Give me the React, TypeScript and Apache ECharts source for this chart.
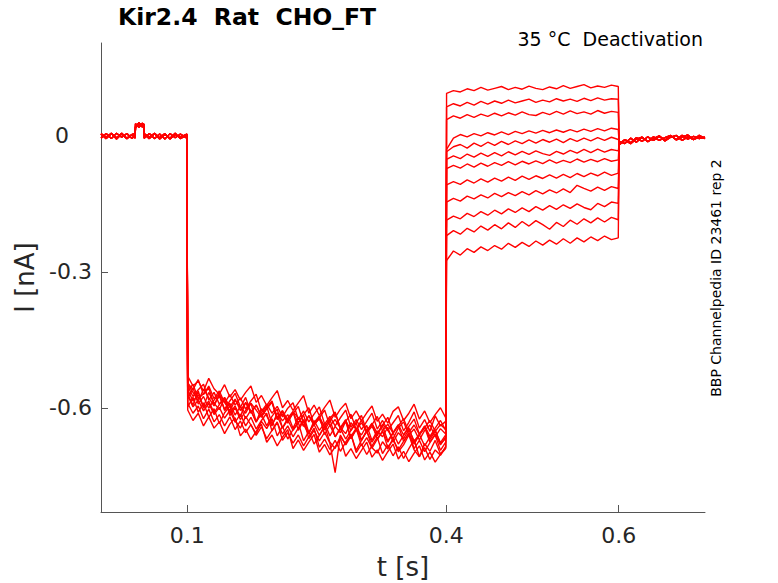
import * as echarts from "echarts";
import { useEffect, useRef } from "react";

// tick labels
const xTicks = [0.1, 0.4, 0.6];
const yTicks = [-0.6, -0.3, 0];

// pre-pulse baseline (0 - 0.1 s), small bump near 0.045 s
const preT = [0, 0.006, 0.012, 0.018, 0.024, 0.03, 0.036, 0.0395, 0.04, 0.044, 0.048, 0.0495, 0.05, 0.056, 0.062, 0.068, 0.074, 0.08, 0.086, 0.092, 0.0995];
const pre1 = [0.004, -0.006, 0.005, -0.004, 0.006, -0.005, 0.003, -0.005, 0.02, 0.029, 0.022, 0.018, 0.004, -0.006, 0.005, -0.007, 0.003, -0.005, 0.006, -0.006, 0.002];
const pre2 = [-0.005, 0.005, -0.006, 0.006, -0.003, 0.005, -0.006, 0.004, 0.027, 0.019, 0.028, 0.025, -0.005, 0.005, -0.006, 0.004, -0.007, 0.005, -0.004, 0.004, -0.005];
const pre3 = [0.005, -0.003, 0.006, -0.007, 0.004, -0.006, 0.003, 0.005, 0.018, 0.026, 0.02, 0.027, 0.005, -0.003, 0.006, -0.004, 0.005, -0.007, 0.003, -0.003, 0.004];

// hyperpolarising segment (0.1 - 0.4 s), one per sweep
const bandA = [-0.56, -0.585, -0.571, -0.598, -0.566, -0.59, -0.604, -0.579, -0.612, -0.596, -0.62, -0.588, -0.607, -0.631, -0.602, -0.618, -0.64, -0.611, -0.629, -0.615, -0.645, -0.622, -0.637, -0.658, -0.628, -0.65, -0.634, -0.662, -0.641, -0.655, -0.63, -0.668, -0.647, -0.66, -0.639, -0.672, -0.651, -0.664, -0.643, -0.676, -0.655, -0.668, -0.648, -0.673, -0.659, -0.641, -0.67, -0.652, -0.677, -0.66];
const bandB = [-0.545, -0.56, -0.538, -0.571, -0.552, -0.58, -0.563, -0.589, -0.571, -0.594, -0.578, -0.603, -0.585, -0.57, -0.608, -0.592, -0.612, -0.597, -0.62, -0.601, -0.589, -0.626, -0.607, -0.631, -0.614, -0.598, -0.636, -0.619, -0.64, -0.622, -0.605, -0.643, -0.626, -0.648, -0.63, -0.612, -0.647, -0.628, -0.65, -0.633, -0.617, -0.651, -0.632, -0.609, -0.645, -0.626, -0.652, -0.618, -0.64, -0.63];
const bandC = [-0.59, -0.612, -0.596, -0.624, -0.603, -0.631, -0.615, -0.64, -0.62, -0.648, -0.629, -0.655, -0.637, -0.661, -0.642, -0.668, -0.65, -0.631, -0.672, -0.655, -0.678, -0.66, -0.684, -0.664, -0.645, -0.687, -0.669, -0.692, -0.672, -0.696, -0.676, -0.658, -0.699, -0.68, -0.703, -0.684, -0.665, -0.701, -0.682, -0.706, -0.686, -0.712, -0.69, -0.671, -0.708, -0.688, -0.714, -0.693, -0.705, -0.685];
const bandD = [-0.58, -0.556, -0.592, -0.575, -0.601, -0.583, -0.569, -0.606, -0.59, -0.616, -0.597, -0.624, -0.605, -0.632, -0.611, -0.596, -0.636, -0.618, -0.644, -0.623, -0.608, -0.65, -0.629, -0.655, -0.633, -0.618, -0.659, -0.638, -0.664, -0.644, -0.626, -0.668, -0.648, -0.672, -0.651, -0.634, -0.67, -0.652, -0.676, -0.656, -0.639, -0.674, -0.656, -0.68, -0.66, -0.643, -0.676, -0.658, -0.682, -0.664];
const bandE = [-0.552, -0.575, -0.56, -0.548, -0.583, -0.566, -0.592, -0.577, -0.598, -0.581, -0.606, -0.589, -0.611, -0.594, -0.617, -0.6, -0.585, -0.622, -0.606, -0.628, -0.611, -0.633, -0.615, -0.6, -0.637, -0.62, -0.642, -0.624, -0.609, -0.646, -0.628, -0.65, -0.632, -0.617, -0.652, -0.635, -0.656, -0.639, -0.621, -0.655, -0.637, -0.66, -0.641, -0.625, -0.658, -0.64, -0.663, -0.645, -0.628, -0.65];
const bandF = [-0.572, -0.598, -0.583, -0.607, -0.59, -0.615, -0.599, -0.623, -0.606, -0.632, -0.614, -0.64, -0.621, -0.647, -0.628, -0.612, -0.651, -0.633, -0.658, -0.64, -0.664, -0.645, -0.626, -0.668, -0.65, -0.673, -0.654, -0.678, -0.743, -0.66, -0.682, -0.663, -0.645, -0.684, -0.666, -0.689, -0.669, -0.651, -0.688, -0.67, -0.693, -0.674, -0.656, -0.69, -0.672, -0.697, -0.677, -0.66, -0.694, -0.676];
const bandG = [-0.565, -0.548, -0.58, -0.569, -0.557, -0.592, -0.574, -0.603, -0.585, -0.568, -0.598, -0.612, -0.59, -0.605, -0.621, -0.6, -0.587, -0.626, -0.613, -0.634, -0.609, -0.622, -0.641, -0.617, -0.636, -0.625, -0.649, -0.63, -0.612, -0.644, -0.657, -0.633, -0.648, -0.627, -0.655, -0.641, -0.662, -0.636, -0.65, -0.668, -0.645, -0.631, -0.66, -0.647, -0.671, -0.65, -0.638, -0.664, -0.646, -0.658];
const bandH = [-0.598, -0.577, -0.61, -0.589, -0.621, -0.602, -0.635, -0.611, -0.596, -0.628, -0.645, -0.619, -0.638, -0.657, -0.63, -0.646, -0.624, -0.662, -0.641, -0.669, -0.648, -0.632, -0.673, -0.652, -0.68, -0.661, -0.64, -0.676, -0.69, -0.663, -0.681, -0.659, -0.694, -0.672, -0.65, -0.688, -0.7, -0.675, -0.691, -0.668, -0.697, -0.682, -0.66, -0.693, -0.708, -0.679, -0.696, -0.672, -0.702, -0.688];
const bandI = [-0.53, -0.552, -0.541, -0.563, -0.535, -0.558, -0.57, -0.549, -0.576, -0.56, -0.583, -0.566, -0.552, -0.588, -0.573, -0.595, -0.578, -0.562, -0.6, -0.584, -0.606, -0.589, -0.573, -0.612, -0.594, -0.617, -0.599, -0.583, -0.621, -0.603, -0.59, -0.624, -0.607, -0.629, -0.611, -0.596, -0.63, -0.614, -0.634, -0.608, -0.598, -0.628, -0.612, -0.592, -0.625, -0.607, -0.633, -0.615, -0.6, -0.622];
const bandJ = [-0.57, -0.594, -0.563, -0.601, -0.585, -0.611, -0.593, -0.578, -0.617, -0.6, -0.626, -0.606, -0.59, -0.63, -0.614, -0.64, -0.619, -0.603, -0.645, -0.627, -0.65, -0.633, -0.616, -0.655, -0.637, -0.661, -0.642, -0.625, -0.664, -0.646, -0.669, -0.65, -0.633, -0.671, -0.653, -0.676, -0.657, -0.64, -0.673, -0.655, -0.68, -0.661, -0.644, -0.678, -0.659, -0.684, -0.665, -0.648, -0.68, -0.668];
const bandK = [-0.605, -0.628, -0.612, -0.64, -0.62, -0.645, -0.631, -0.657, -0.636, -0.622, -0.662, -0.647, -0.67, -0.652, -0.636, -0.676, -0.66, -0.684, -0.665, -0.648, -0.69, -0.671, -0.694, -0.676, -0.659, -0.698, -0.681, -0.704, -0.686, -0.668, -0.707, -0.69, -0.712, -0.694, -0.676, -0.709, -0.693, -0.716, -0.697, -0.68, -0.713, -0.696, -0.719, -0.7, -0.684, -0.715, -0.698, -0.72, -0.703, -0.69];
const bandL = [-0.548, -0.566, -0.585, -0.559, -0.578, -0.596, -0.571, -0.588, -0.607, -0.583, -0.599, -0.577, -0.612, -0.594, -0.619, -0.603, -0.588, -0.624, -0.608, -0.63, -0.613, -0.597, -0.633, -0.618, -0.639, -0.622, -0.605, -0.64, -0.626, -0.645, -0.63, -0.614, -0.648, -0.633, -0.653, -0.637, -0.619, -0.651, -0.636, -0.656, -0.64, -0.624, -0.654, -0.638, -0.659, -0.644, -0.628, -0.652, -0.637, -0.648];

// test steps (0.4 - 0.6 s), one per sweep
const step1 = [0.094, 0.1, 0.097, 0.104, 0.1, 0.107, 0.101, 0.105, 0.109, 0.102, 0.107, 0.103, 0.11, 0.105, 0.102, 0.108, 0.104, 0.111, 0.105, 0.109, 0.113, 0.106, 0.11, 0.107, 0.112, 0.109];
const step2 = [0.064, 0.071, 0.066, 0.074, 0.068, 0.076, 0.07, 0.077, 0.072, 0.079, 0.073, 0.077, 0.081, 0.074, 0.079, 0.075, 0.082, 0.077, 0.081, 0.076, 0.083, 0.078, 0.084, 0.079, 0.082, 0.081];
const step3 = [0.036, 0.044, 0.039, 0.047, 0.041, 0.048, 0.043, 0.05, 0.044, 0.051, 0.046, 0.053, 0.047, 0.045, 0.052, 0.047, 0.054, 0.048, 0.055, 0.049, 0.053, 0.048, 0.056, 0.05, 0.054, 0.052];
const step4 = [-0.03, -0.005, 0.003, -0.002, 0.005, 0.0, 0.007, 0.002, 0.009, 0.003, 0.01, 0.005, 0.011, 0.006, 0.012, 0.007, 0.013, 0.008, 0.014, 0.009, 0.015, 0.01, 0.016, 0.011, 0.017, 0.014];
const step5 = [-0.035, -0.024, -0.019, -0.027, -0.016, -0.023, -0.014, -0.021, -0.012, -0.019, -0.011, -0.017, -0.009, -0.016, -0.008, -0.014, -0.007, -0.015, -0.006, -0.012, -0.005, -0.011, -0.004, -0.01, -0.003, -0.008];
const step6 = [-0.052, -0.044, -0.05, -0.04, -0.047, -0.038, -0.045, -0.037, -0.044, -0.035, -0.042, -0.034, -0.041, -0.033, -0.039, -0.043, -0.034, -0.04, -0.032, -0.038, -0.03, -0.037, -0.029, -0.036, -0.03, -0.033];
const step7 = [-0.072, -0.065, -0.071, -0.062, -0.069, -0.06, -0.067, -0.059, -0.065, -0.057, -0.064, -0.056, -0.062, -0.055, -0.061, -0.053, -0.06, -0.054, -0.059, -0.051, -0.058, -0.052, -0.057, -0.05, -0.056, -0.053];
const step8 = [-0.108, -0.101, -0.107, -0.097, -0.104, -0.095, -0.102, -0.093, -0.1, -0.091, -0.098, -0.089, -0.096, -0.088, -0.094, -0.086, -0.093, -0.085, -0.092, -0.083, -0.09, -0.082, -0.088, -0.08, -0.087, -0.082];
const step9 = [-0.146, -0.138, -0.144, -0.133, -0.139, -0.13, -0.137, -0.127, -0.134, -0.125, -0.132, -0.123, -0.13, -0.121, -0.128, -0.119, -0.126, -0.117, -0.125, -0.109, -0.116, -0.122, -0.113, -0.12, -0.112, -0.116];
const step10 = [-0.186, -0.177, -0.183, -0.171, -0.178, -0.167, -0.175, -0.164, -0.172, -0.161, -0.169, -0.159, -0.167, -0.156, -0.164, -0.154, -0.162, -0.152, -0.16, -0.15, -0.158, -0.163, -0.149, -0.156, -0.146, -0.149];
const step11 = [-0.22, -0.209, -0.217, -0.204, -0.212, -0.199, -0.208, -0.196, -0.205, -0.192, -0.202, -0.189, -0.199, -0.187, -0.196, -0.206, -0.191, -0.2, -0.186, -0.195, -0.183, -0.192, -0.181, -0.19, -0.18, -0.185];
const step12 = [-0.275, -0.254, -0.263, -0.249, -0.257, -0.245, -0.253, -0.242, -0.25, -0.237, -0.246, -0.235, -0.244, -0.232, -0.241, -0.23, -0.239, -0.227, -0.237, -0.225, -0.234, -0.223, -0.231, -0.221, -0.229, -0.225];

// tail after the step (0.6 - 0.7 s)
const post1 = [-0.018, -0.008, -0.015, -0.004, -0.012, -0.002, -0.01, -0.001, -0.009, 0.0, -0.008, 0.001, -0.007, -0.001, -0.006, -0.003];
const post2 = [-0.012, -0.017, -0.005, -0.014, -0.003, -0.012, -0.006, 0.0, -0.011, -0.003, 0.001, -0.01, -0.002, -0.008, 0.001, -0.006];
const post3 = [-0.02, -0.009, -0.017, -0.007, -0.003, -0.013, -0.002, -0.01, -0.004, 0.001, -0.009, -0.003, 0.002, -0.008, -0.002, -0.004];

const preSets = [pre1, pre2, pre3];
const bands = [bandA, bandB, bandC, bandD, bandE, bandF, bandG, bandH, bandI, bandJ, bandK, bandL];
const steps = [step1, step2, step3, step4, step5, step6, step7, step8, step9, step10, step11, step12];
const postSets = [post1, post2, post3];

// evenly spaced sample times for a segment
function times(a: number, b: number, n: number) {
  const out: number[] = [];
  for (let i = 0; i < n; i++) out.push(a + ((b - a) * i) / (n - 1));
  return out;
}

function sweep(i: number) {
  const pts: [number, number][] = [];
  const pre = preSets[i % 3];
  preT.forEach((t, k) => pts.push([t, pre[k]]));
  const band = bands[i];
  times(0.1005, 0.3995, band.length).forEach((t, k) => pts.push([t, band[k]]));
  const st = steps[i];
  times(0.4005, 0.5995, st.length).forEach((t, k) => pts.push([t, st[k]]));
  const post = postSets[i % 3];
  times(0.6005, 0.7, post.length).forEach((t, k) => pts.push([t, post[k]]));
  return pts;
}

const FONT = "DejaVu Sans";
const INK = "#262626";
const AXIS = "#555555";

export default function App() {
  const chartRef = useRef<HTMLDivElement | null>(null);

  useEffect(() => {
    document.body.style.margin = "0";
    const el = chartRef.current;
    if (!el) return;
    const chart = echarts.init(el, undefined, { renderer: "svg" });

    const series = steps.map((_, i) => ({
      type: "line" as const,
      data: sweep(i),
      showSymbol: false,
      symbol: "none",
      lineStyle: { width: 1.4, color: "#ff0000" },
      itemStyle: { color: "#ff0000" },
      z: 2,
    }));

    const option: echarts.EChartsOption = {
      animation: false,
      backgroundColor: "#ffffff",
      textStyle: { fontFamily: FONT },
      title: {
        text: "Kir2.4  Rat  CHO_FT",
        left: 113,
        top: 0,
        textStyle: { fontFamily: FONT, fontSize: 23.5, fontWeight: "bold", color: "#000" },
      },
      grid: {
        left: 101,
        right: 73,
        top: 43,
        bottom: 71,
        containLabel: false,
        outerBoundsMode: "none",
      } as any,
      xAxis: {
        type: "value",
        min: 0,
        max: 0.7,
        name: "t [s]",
        nameLocation: "middle",
        nameGap: 42,
        nameTextStyle: { fontFamily: FONT, fontSize: 26, color: INK },
        axisLine: { onZero: false, lineStyle: { color: AXIS, width: 1 } },
        axisTick: { inside: true, length: 7, customValues: xTicks, lineStyle: { color: AXIS } },
        axisLabel: {
          customValues: xTicks,
          fontFamily: FONT,
          fontSize: 22,
          color: INK,
          margin: 12,
          formatter: (v: number) => String(v),
        },
        splitLine: { show: false },
      } as any,
      yAxis: {
        type: "value",
        min: -0.83,
        max: 0.205,
        name: "I [nA]",
        nameLocation: "middle",
        nameGap: 63,
        nameTextStyle: { fontFamily: FONT, fontSize: 26, color: INK },
        axisLine: { show: true, onZero: false, lineStyle: { color: AXIS, width: 1 } },
        axisTick: { show: true, inside: true, length: 7, customValues: yTicks, lineStyle: { color: AXIS } },
        axisLabel: {
          customValues: yTicks,
          fontFamily: FONT,
          fontSize: 22,
          color: INK,
          margin: 9,
          formatter: (v: number) => (v === 0 ? "{z|0}" : String(v)),
          rich: {
            z: { fontFamily: FONT, fontSize: 22, color: INK, padding: [0, 23, 0, 0] },
          },
        },
        splitLine: { show: false },
      } as any,
      graphic: [
        {
          type: "text",
          right: 75,
          top: 29,
          style: { text: "35 °C  Deactivation", fontFamily: FONT, fontSize: 19, fill: "#000" },
        },
        {
          type: "text",
          x: 716,
          y: 278,
          rotation: Math.PI / 2,
          style: {
            text: "BBP Channelpedia ID 23461 rep 2",
            fontFamily: FONT,
            fontSize: 14,
            fill: "#000",
            align: "center",
            verticalAlign: "middle",
          },
        },
      ],
      series,
    };

    chart.setOption(option, { notMerge: true });

    return () => {
      if (!chart.isDisposed()) chart.dispose();
    };
  }, []);

  return <div ref={chartRef} style={{ width: 778, height: 583 }} />;
}
